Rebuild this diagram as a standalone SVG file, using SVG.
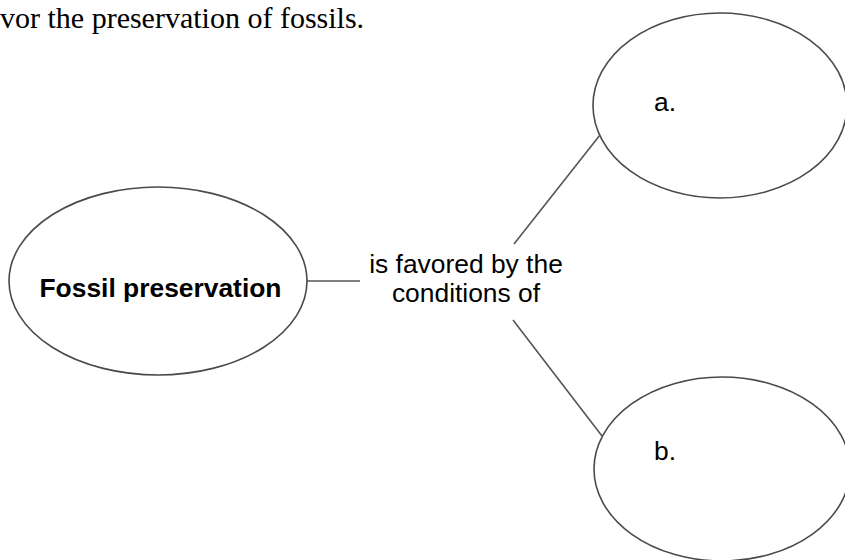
<svg xmlns="http://www.w3.org/2000/svg" width="845" height="560" viewBox="0 0 845 560">
<style>
.node{fill:#ffffff;stroke:#4a4a4a;stroke-width:1.6}
.conn{stroke:#555555;stroke-width:1.6;fill:none}
.lbl{font-family:"Liberation Sans",Arial,sans-serif;font-size:26.4px;fill:#000}
.bold{font-weight:bold}
.head{font-family:"Liberation Serif","Times New Roman",serif;font-size:30px;fill:#000}
</style>
<rect width="845" height="560" fill="#ffffff"/>
<text class="head" x="0" y="28">vor the preservation of fossils.</text>
<g id="connectors">
<line class="conn" x1="307" y1="281" x2="360" y2="281"/>
<line class="conn" x1="600" y1="135" x2="514" y2="244"/>
<line class="conn" x1="513" y1="320" x2="602" y2="436"/>
</g>
<g id="node-fossil">
<ellipse class="node" cx="158" cy="281" rx="149" ry="94"/>
<text class="lbl bold" x="160.5" y="297" text-anchor="middle">Fossil preservation</text>
</g>
<g id="label-favored">
<text class="lbl" x="466" y="273" text-anchor="middle">is favored by the</text>
<text class="lbl" x="466" y="302" text-anchor="middle">conditions of</text>
</g>
<g id="node-a">
<ellipse class="node" cx="720" cy="105.5" rx="127" ry="92.5"/>
<text class="lbl" x="654" y="111">a.</text>
</g>
<g id="node-b">
<ellipse class="node" cx="722" cy="469" rx="128" ry="92"/>
<text class="lbl" x="654" y="460">b.</text>
</g>
</svg>
